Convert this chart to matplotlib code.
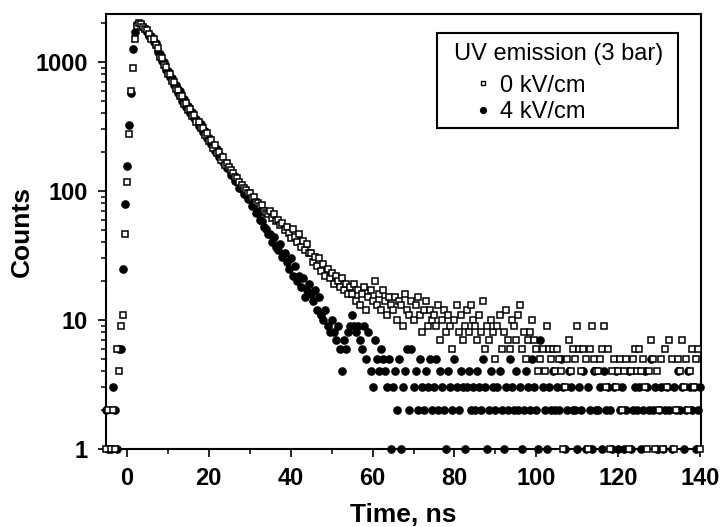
import numpy as np
import matplotlib.pyplot as plt
from matplotlib.ticker import LogLocator, NullFormatter, MultipleLocator
from matplotlib.patches import Rectangle

# time bins: first bin centre and bin width (ns)
T0 = -5.0
DT = 0.5

# counts per bin, 0 kV/cm (open squares), 10 ns per row
counts_0kv = [
    1, 2, 1, 2, 1, 6, 4, 9, 11, 46, 118, 277, 600, 900, 1500, 1900, 2000, 1950, 1870, 1800,
    1760, 1650, 1500, 1510, 1340, 1280, 1090, 1080, 940, 920, 810, 800, 710, 700, 620, 610, 540, 545, 475, 480,
    420, 430, 380, 390, 340, 345, 305, 310, 270, 280, 245, 250, 215, 225, 195, 200, 175, 182, 160, 165,
    152, 146, 138, 128, 125, 117, 112, 106, 102, 97, 96, 88, 90, 82, 80, 76, 78, 70, 68, 66,
    70, 62, 66, 58, 60, 54, 56, 50, 53, 47, 43, 51, 44, 40, 46, 37, 41, 35, 39, 33,
    33, 28, 31, 26, 30, 24, 27, 22, 25, 21, 23, 19, 22, 20, 18, 21, 17, 19, 16, 18,
    16, 19, 14, 17, 13, 16, 18, 12, 15, 17, 14, 20, 13, 16, 12, 17, 14, 11, 15, 13,
    12, 15, 10, 14, 13, 9, 16, 12, 11, 14, 10, 13, 15, 11, 8, 12, 14, 9, 12, 10,
    11, 9, 13, 7, 10, 12, 8, 11, 9, 6, 10, 13, 8, 11, 7, 9, 12, 8, 13, 10,
    9, 7, 11, 8, 14, 6, 9, 7, 10, 8, 5, 9, 11, 6, 8, 12, 7, 6, 10, 9,
    7, 11, 13, 6, 8, 5, 7, 8, 10, 7, 6, 4, 5, 6, 4, 9, 6, 5, 6, 4,
    6, 5, 4, 1, 3, 5, 7, 4, 6, 5, 9, 6, 4, 6, 5, 1, 6, 9, 5, 4,
    4, 5, 6, 9, 3, 6, 1, 4, 5, 3, 4, 5, 2, 4, 5, 1, 4, 5, 6, 4,
    6, 4, 5, 3, 1, 4, 7, 5, 1, 4, 2, 5, 1, 6, 3, 7, 5, 1, 2, 5,
    4, 7, 3, 5, 2, 4, 6, 3, 5, 6, 1,
]

# counts per bin, 4 kV/cm (filled circles)
counts_4kv = [
    2, 1, 1, 3, 2, 1, 6, 6, 25, 79, 156, 325, 575, 1260, 1700, 1950, 1980, 1920, 1850, 1790,
    1700, 1580, 1600, 1420, 1400, 1200, 1150, 1010, 990, 860, 850, 760, 750, 660, 660, 570, 590, 500, 520, 450,
    455, 405, 410, 365, 360, 320, 330, 288, 292, 258, 255, 232, 228, 205, 210, 184, 186, 168, 166, 150,
    150, 134, 132, 120, 118, 106, 104, 95, 94, 86, 86, 77, 76, 68, 67, 60, 58, 53, 51, 46,
    46, 40, 44, 37, 35, 39, 31, 33, 28, 25, 30, 22, 26, 20, 22, 18, 21, 15, 17, 19,
    16, 14, 17, 12, 15, 11, 10, 12, 9, 8, 10, 8, 7, 9, 6, 4, 7, 6, 8, 9,
    11, 9, 8, 9, 7, 6, 9, 5, 8, 4, 3, 7, 5, 4, 6, 5, 4, 3, 5, 1,
    3, 4, 2, 5, 1, 3, 4, 6, 2, 6, 3, 4, 2, 5, 3, 2, 4, 3, 5, 2,
    3, 5, 2, 4, 3, 2, 1, 4, 3, 2, 5, 3, 2, 4, 3, 1, 3, 4, 2, 3,
    2, 4, 3, 2, 5, 3, 1, 2, 4, 3, 2, 3, 4, 2, 1, 3, 2, 5, 3, 2,
    4, 2, 3, 1, 2, 4, 3, 2, 5, 3, 2, 1, 7, 3, 2, 1, 3, 2, 4, 2,
    3, 2, 5, 3, 1, 2, 4, 3, 2, 2, 1, 3, 2, 4, 1, 3, 2, 1, 4, 2,
    2, 3, 1, 4, 2, 3, 2, 1, 3, 4, 1, 2, 3, 1, 2, 4, 1, 2, 3, 2,
    3, 1, 2, 4, 3, 2, 5, 2, 3, 1, 2, 3, 1, 2, 3, 2, 1, 3, 2, 4,
    2, 3, 1, 2, 4, 3, 2, 3, 1, 2, 3,
]

legend_title = 'UV emission (3 bar)'
labels = ['0 kV/cm', '4 kV/cm']

plt.rcParams['font.family'] = ['Liberation Sans', 'DejaVu Sans']
plt.rcParams['font.size'] = 17

fig = plt.figure(figsize=(7.23, 5.27), dpi=100)
ax = fig.add_axes([106 / 723, 1 - 449 / 527, 595 / 723, 435 / 527])

t0kv = T0 + DT * np.arange(len(counts_0kv))
t4kv = T0 + DT * np.arange(len(counts_4kv))
c0 = np.array(counts_0kv, dtype=float)
c4 = np.array(counts_4kv, dtype=float)

ax.plot(t4kv[c4 > 0], c4[c4 > 0], 'o', ms=5.2, color='black', clip_on=False, zorder=3)
ax.plot(t0kv[c0 > 0], c0[c0 > 0], 's', ms=4.3, mfc='white', mec='black', mew=1.1,
        clip_on=False, zorder=4)

ax.set_yscale('log')
ax.set_xlim(-5.1, 140.2)
ax.set_ylim(1, 2350)

ax.xaxis.set_major_locator(MultipleLocator(20))
ax.xaxis.set_minor_locator(MultipleLocator(10))
ax.yaxis.set_minor_locator(LogLocator(base=10, subs=np.arange(2, 10)))
ax.yaxis.set_minor_formatter(NullFormatter())
ax.set_yticks([1, 10, 100, 1000])
ax.set_yticklabels(['1', '10', '100', '1000'])

ax.tick_params(which='major', length=6, width=1.2, pad=7, labelsize=17)
ax.tick_params(which='minor', length=3.5, width=1.1)
for lbl in ax.get_xticklabels() + ax.get_yticklabels():
    lbl.set_fontweight('bold')
for s in ax.spines.values():
    s.set_linewidth(1.5)

ax.set_xlabel('Time, ns', fontsize=19, fontweight='bold', labelpad=9)
ax.set_ylabel('Counts', fontsize=19, fontweight='bold', labelpad=1)

# legend box drawn by hand (axes coordinates)
def axpos(px, py):
    return (px - 106) / 595, (449 - py) / 435

bx0, by0 = axpos(436.7, 128.3)
bx1, by1 = axpos(678.3, 32.7)
ax.add_patch(Rectangle((bx0, by0), bx1 - bx0, by1 - by0, transform=ax.transAxes,
                       fill=True, facecolor='white', edgecolor='black', lw=1.5, zorder=5,
                       clip_on=False))
tx, ty = axpos(558.5, 51.7)
ax.text(tx, ty, legend_title, transform=ax.transAxes, ha='center', va='center_baseline',
        fontsize=17, zorder=6)
mx, my0 = axpos(482.7, 83.3)
_, my1 = axpos(482.7, 110)
lx, _ = axpos(500, 0)
ax.plot([mx], [my0], 's', ms=3.5, mfc='white', mec='black', mew=1.0,
        transform=ax.transAxes, zorder=6, clip_on=False)
ax.plot([mx], [my1], 'o', ms=4.2, color='black', transform=ax.transAxes, zorder=6,
        clip_on=False)
ax.text(lx, my0, labels[0], transform=ax.transAxes, ha='left', va='center_baseline',
        fontsize=17, zorder=6)
ax.text(lx, my1, labels[1], transform=ax.transAxes, ha='left', va='center_baseline',
        fontsize=17, zorder=6)

fig.savefig('out.png', dpi=100)
